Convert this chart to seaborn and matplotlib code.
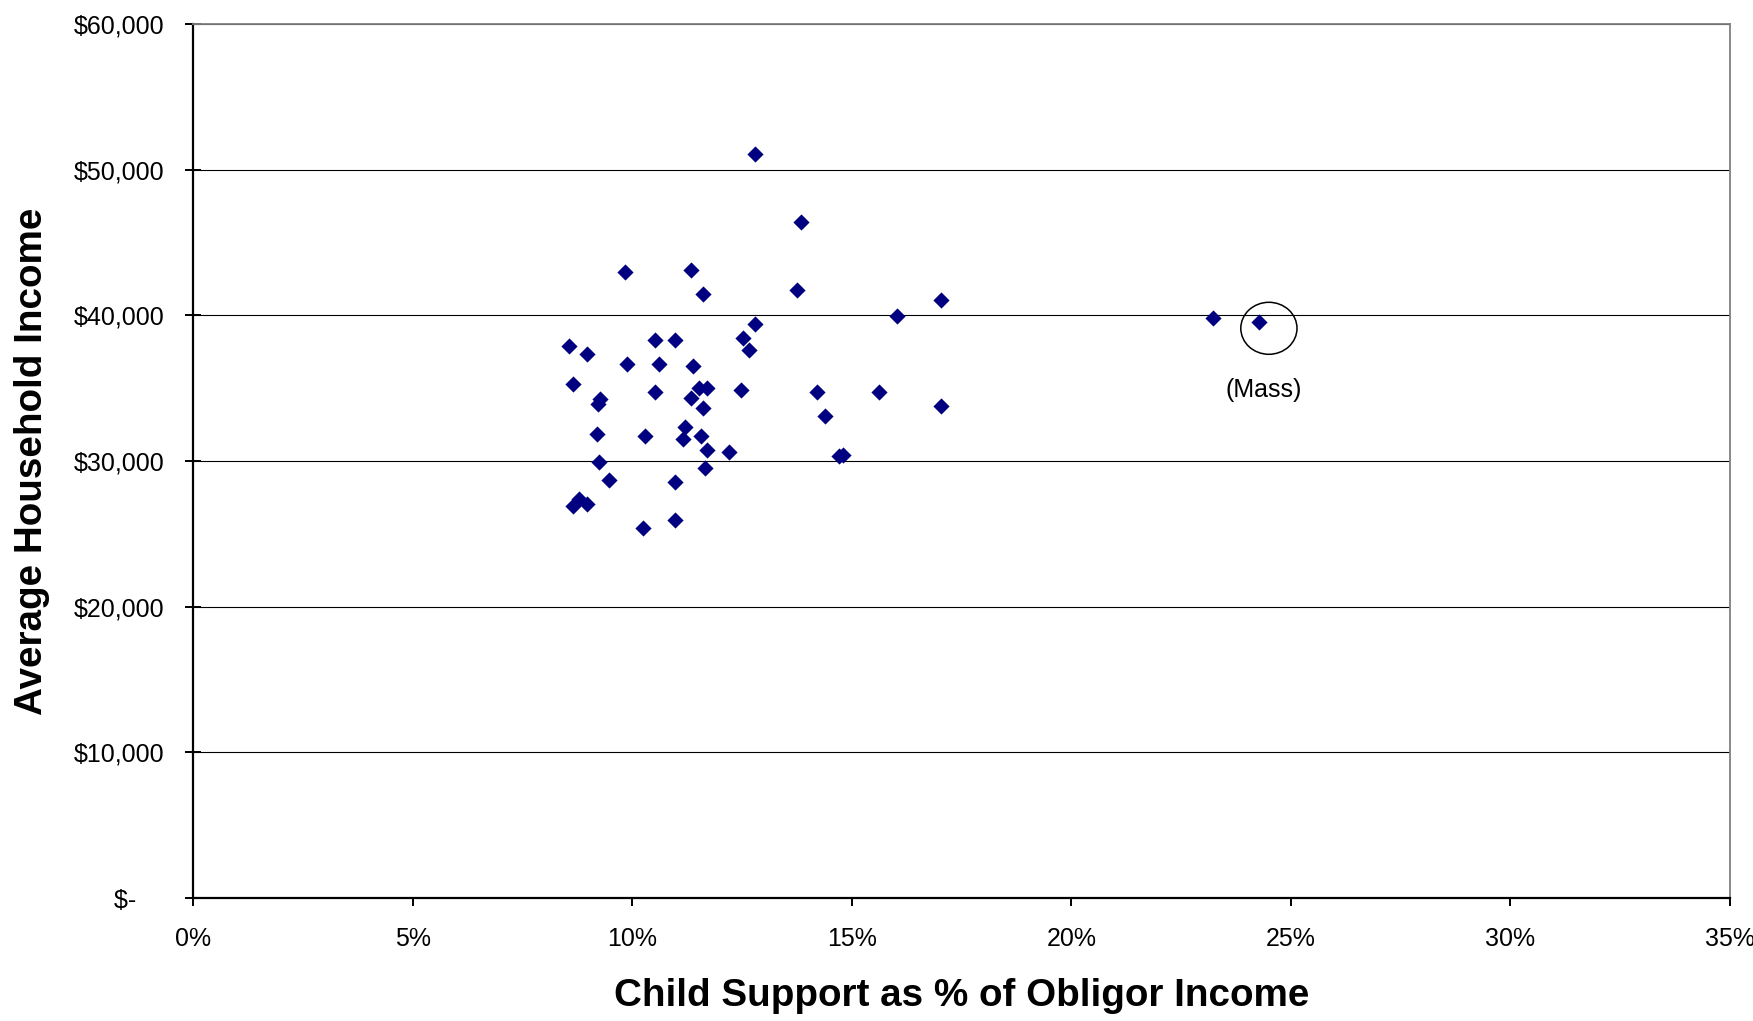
import matplotlib
matplotlib.use("Agg")
import matplotlib.pyplot as plt
from matplotlib.patches import Ellipse
import seaborn as sns
import pandas as pd

# Data: child support as % of obligor income vs average household income
support_pct = [12.79, 13.84, 9.84, 11.33, 11.61, 13.75, 12.79, 8.56, 8.97, 10.51,
               10.97, 12.52, 12.66, 9.88, 10.61, 11.38, 8.65, 9.27, 9.23, 10.51,
               11.52, 11.71, 11.33, 12.47, 11.61, 14.20, 9.19, 10.29, 11.20, 11.15,
               11.56, 11.70, 12.20, 9.24, 11.65, 9.47, 10.97, 8.65, 8.78, 8.97,
               10.97, 10.24, 17.03, 16.03, 15.62, 14.39, 17.03, 14.70, 14.80, 23.22,
               24.27]
household_income = [51070, 46400, 42970, 43110, 41460, 41740, 39400, 37890, 37340, 38310,
                     38310, 38440, 37620, 36660, 36660, 36520, 35290, 34280, 33910, 34740,
                     35010, 35010, 34320, 34870, 33640, 34740, 31850, 31720, 32360, 31530,
                     31720, 30750, 30620, 29930, 29520, 28700, 28560, 26910, 27370, 27050,
                     25950, 25400, 41050, 39950, 34740, 33090, 33780, 30340, 30400, 39820,
                     39540]

x_ticks = [0, 5, 10, 15, 20, 25, 30, 35]
x_tick_labels = ["0%", "5%", "10%", "15%", "20%", "25%", "30%", "35%"]
y_ticks = [0, 10000, 20000, 30000, 40000, 50000, 60000]
y_tick_labels = ["$-    ", "$10,000", "$20,000", "$30,000", "$40,000", "$50,000", "$60,000"]

highlight_x = 24.5
highlight_y = 39110
highlight_label = "(Mass)"
highlight_label_x = 24.37
highlight_label_y = 34870

sns.set_style("white")
plt.rcParams["font.family"] = ["Liberation Sans", "DejaVu Sans"]
plt.rcParams["text.color"] = "black"
plt.rcParams["axes.labelcolor"] = "black"
plt.rcParams["xtick.color"] = "black"
plt.rcParams["ytick.color"] = "black"

df = pd.DataFrame({"pct": support_pct, "income": household_income})

fig = plt.figure(figsize=(17.53, 10.21), dpi=100)
ax = fig.add_axes([193 / 1753, 1 - 898 / 1021, (1730 - 193) / 1753, (898 - 24) / 1021])

sns.scatterplot(data=df, x="pct", y="income", marker="D", color="#000080",
                s=68, linewidth=0, ax=ax, zorder=3)

ax.set_xlim(0, 35)
ax.set_ylim(0, 60000)
ax.set_xticks(x_ticks)
ax.set_xticklabels(x_tick_labels)
ax.set_yticks(y_ticks)
ax.set_yticklabels(y_tick_labels)

ax.yaxis.grid(True, color="black", linewidth=0.8)
ax.xaxis.grid(False)
ax.set_axisbelow(True)

for side in ["left", "bottom"]:
    ax.spines[side].set_color("black")
    ax.spines[side].set_linewidth(1.6)
for side in ["top", "right"]:
    ax.spines[side].set_visible(True)
    ax.spines[side].set_color("#808080")
    ax.spines[side].set_linewidth(1.3)

ax.tick_params(axis="x", direction="out", length=6, width=1.4, pad=15,
               labelsize=18, colors="black", labelcolor="black", bottom=True)
ax.tick_params(axis="y", direction="inout", length=11, width=1.4, pad=15,
               labelsize=18, colors="black", labelcolor="black", left=True)

ax.set_xlabel("Child Support as % of Obligor Income", fontsize=27.8,
              fontweight="bold", color="black")
ax.set_ylabel("Average Household Income", fontsize=27.8,
              fontweight="bold", color="black")
ax.xaxis.set_label_coords(0.5, -0.0915)
ax.xaxis.label.set_va("top")
ax.yaxis.set_label_coords(-0.093, 0.5)

ell = Ellipse((highlight_x, highlight_y), width=1.28, height=3570,
              fill=False, edgecolor="black", linewidth=1.1, zorder=4)
ax.add_patch(ell)
ax.text(highlight_label_x, highlight_label_y, highlight_label, fontsize=18,
        ha="center", va="center", color="black")

fig.savefig("out.png", dpi=100)
